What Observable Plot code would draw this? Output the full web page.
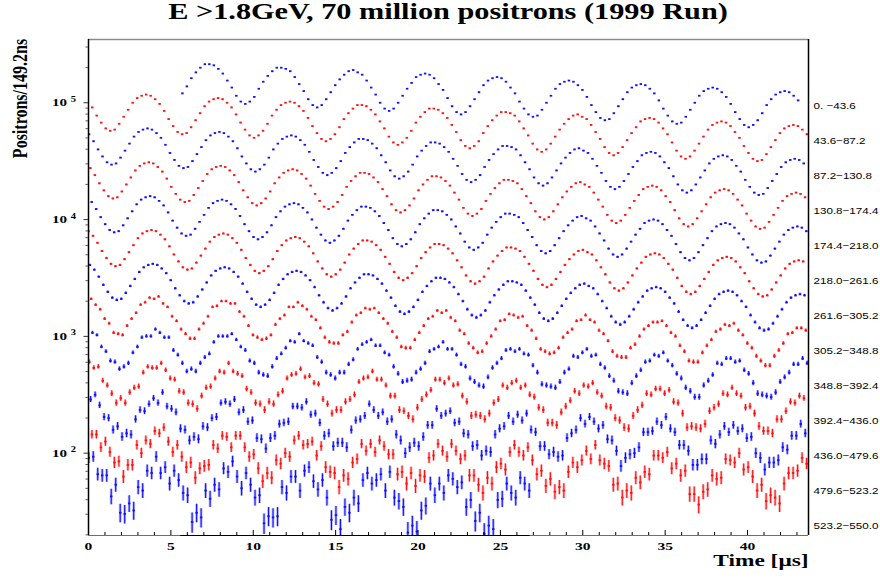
<!DOCTYPE html>
<html><head><meta charset="utf-8">
<script src="https://cdn.jsdelivr.net/npm/d3@7"></script>
<script src="https://cdn.jsdelivr.net/npm/@observablehq/plot@0.6"></script>
<style>
body{margin:0;background:#fff;}
#title{position:relative;height:30px;width:880px;}
#title span{position:absolute;left:447.5px;top:0;line-height:24px;white-space:nowrap;font-weight:bold;font-size:22.7px;font-family:"Liberation Serif","Times New Roman",serif;transform:translateX(-50%) scaleX(1.335);color:#000;}
</style></head><body>
<div id="title"><span>E &gt;1.8GeV, 70 million positrons (1999 Run)</span></div>
<div id="chart"></div>
<script>
// ---- data (log10 of positrons per 149.2 ns bin) ----
const rowRanges = ["0. \u221243.6","43.6\u221287.2","87.2\u2212130.8","130.8\u2212174.4","174.4\u2212218.0","218.0\u2212261.6","261.6\u2212305.2","305.2\u2212348.8","348.8\u2212392.4","392.4\u2212436.0","436.0\u2212479.6","479.6\u2212523.2","523.2\u2212550.0"];
const rowStart = [5.698,0.226,0.034,0.114,0.194,0.001,0.081,0.161,0.241,0.048,0.128,0.208,0.015]; // μs of first sample
const binStep = 0.2728; // μs between plotted samples
const xTicks = [0,5,10,15,20,25,30,35,40];
const xMinorTicks = [1,2,3,4,6,7,8,9,11,12,13,14,16,17,18,19,21,22,23,24,26,27,28,29,31,32,33,34,36,37,38,39,41,42,43];
const yTicks = [100,1000,10000,100000];
const yMinorTicks = [20,30,40,50,60,70,80,90,200,300,400,500,600,700,800,900,2000,3000,4000,5000,6000,7000,8000,9000,20000,30000,40000,50000,60000,70000,80000,90000,200000,300000];
const zeroRanges = [[0,5.6],[26.8,43.7]]; // empty bins drawn on the axis
const xTitle = "Time [\u03bcs]";
const yTitle = "Positrons/149.2ns";

const lgRow0 = [5.08,5.14,5.21,5.26,5.30,5.33,
5.33,5.32,5.29,5.25,5.19,5.13,5.06,5.01,4.99,5.01,5.05,5.12,5.18,5.23,5.27,5.30,
5.30,5.29,5.27,5.22,5.16,5.10,5.03,4.98,4.96,4.98,5.03,5.09,5.15,5.20,5.24,5.27,
5.28,5.26,5.24,5.19,5.13,5.07,5.00,4.95,4.93,4.95,5.00,5.06,5.12,5.17,5.22,5.24,
5.25,5.24,5.21,5.16,5.11,5.04,4.97,4.92,4.90,4.92,4.97,5.03,5.09,5.15,5.19,5.21,
5.22,5.21,5.18,5.13,5.08,5.01,4.95,4.90,4.88,4.89,4.94,5.00,5.06,5.12,5.16,5.18,
5.19,5.18,5.15,5.11,5.05,4.98,4.92,4.87,4.85,4.86,4.91,4.97,5.03,5.09,5.13,5.15,
5.16,5.15,5.12,5.08,5.02,4.95,4.89,4.84,4.82,4.83,4.88,4.94,5.00,5.06,5.10,5.12,
5.13,5.12,5.09,5.05,4.99,4.92,4.86,4.81,4.79,4.81,4.85,4.91,4.98,5.03,5.07,5.09,
5.10,5.09,5.06,5.02];
const lgRow1 = [4.96,4.89,4.83,4.78,4.76,4.77,4.82,4.88,4.94,5.00,5.04,5.06,
5.07,5.06,5.03,4.99,4.93,4.86,4.80,4.75,4.73,4.74,4.79,4.85,4.91,4.97,5.01,5.03,
5.04,5.03,5.00,4.96,4.90,4.83,4.77,4.72,4.70,4.72,4.76,4.82,4.89,4.94,4.98,5.00,
5.01,5.00,4.97,4.93,4.87,4.80,4.74,4.69,4.67,4.69,4.73,4.79,4.86,4.91,4.95,4.98,
4.98,4.97,4.94,4.90,4.84,4.78,4.71,4.66,4.64,4.66,4.70,4.76,4.83,4.88,4.92,4.95,
4.95,4.94,4.91,4.87,4.81,4.75,4.68,4.63,4.61,4.63,4.67,4.74,4.80,4.85,4.89,4.92,
4.92,4.91,4.89,4.84,4.78,4.72,4.65,4.60,4.58,4.60,4.65,4.71,4.77,4.82,4.86,4.89,
4.90,4.88,4.86,4.81,4.75,4.69,4.62,4.57,4.55,4.57,4.62,4.68,4.74,4.79,4.84,4.86,
4.87,4.86,4.83,4.78,4.73,4.66,4.59,4.54,4.52,4.54,4.59,4.65,4.71,4.77,4.81,4.83,
4.84,4.83,4.80,4.75,4.70,4.63,4.57,4.52,4.50,4.51,4.56,4.62,4.68,4.74,4.78,4.80,
4.81,4.80,4.77,4.73];
const lgRow2 = [4.73,4.67,4.60,4.54,4.49,4.47,4.48,4.53,4.59,4.65,4.71,4.75,4.77,
4.78,4.77,4.74,4.70,4.64,4.57,4.51,4.46,4.44,4.45,4.50,4.56,4.62,4.68,4.72,4.74,
4.75,4.74,4.71,4.67,4.61,4.54,4.48,4.43,4.41,4.43,4.47,4.53,4.60,4.65,4.69,4.71,
4.72,4.71,4.68,4.64,4.58,4.51,4.45,4.40,4.38,4.40,4.44,4.50,4.57,4.62,4.66,4.69,
4.69,4.68,4.65,4.61,4.55,4.49,4.42,4.37,4.35,4.37,4.41,4.47,4.54,4.59,4.63,4.66,
4.66,4.65,4.62,4.58,4.52,4.46,4.39,4.34,4.32,4.34,4.38,4.45,4.51,4.56,4.60,4.63,
4.63,4.62,4.60,4.55,4.49,4.43,4.36,4.31,4.29,4.31,4.36,4.42,4.48,4.53,4.57,4.60,
4.61,4.59,4.57,4.52,4.46,4.40,4.33,4.28,4.26,4.28,4.33,4.39,4.45,4.50,4.55,4.57,
4.58,4.57,4.54,4.49,4.44,4.37,4.30,4.25,4.23,4.25,4.30,4.36,4.42,4.48,4.52,4.54,
4.55,4.54,4.51,4.46,4.41,4.34,4.28,4.23,4.21,4.22,4.27,4.33,4.39,4.45,4.49,4.51,
4.52,4.51,4.48];
const lgRow3 = [4.44,4.38,4.31,4.25,4.20,4.18,4.19,4.24,4.30,4.36,4.42,4.46,4.48,
4.49,4.48,4.45,4.41,4.35,4.28,4.22,4.17,4.15,4.16,4.21,4.27,4.33,4.39,4.43,4.45,
4.46,4.45,4.42,4.38,4.32,4.25,4.19,4.14,4.12,4.14,4.18,4.24,4.31,4.36,4.40,4.42,
4.43,4.42,4.39,4.35,4.29,4.22,4.16,4.11,4.09,4.11,4.15,4.21,4.28,4.33,4.37,4.40,
4.40,4.39,4.36,4.32,4.26,4.20,4.13,4.08,4.06,4.08,4.12,4.18,4.25,4.30,4.34,4.37,
4.37,4.36,4.33,4.29,4.23,4.17,4.10,4.05,4.03,4.05,4.09,4.16,4.22,4.27,4.31,4.34,
4.34,4.33,4.31,4.26,4.20,4.14,4.07,4.02,4.00,4.02,4.07,4.13,4.19,4.24,4.28,4.31,
4.32,4.30,4.28,4.23,4.17,4.11,4.04,3.99,3.97,3.99,4.04,4.10,4.16,4.21,4.26,4.28,
4.29,4.28,4.25,4.20,4.15,4.08,4.01,3.96,3.94,3.96,4.01,4.07,4.13,4.19,4.23,4.25,
4.26,4.25,4.22,4.17,4.12,4.05,3.99,3.94,3.92,3.93,3.98,4.04,4.10,4.16,4.20,4.22,
4.23,4.22,4.19];
const lgRow4 = [4.15,4.09,4.02,3.96,3.91,3.89,3.90,3.95,4.01,4.07,4.13,4.17,4.19,
4.20,4.19,4.16,4.12,4.06,3.99,3.93,3.88,3.86,3.87,3.92,3.98,4.04,4.10,4.14,4.16,
4.17,4.16,4.13,4.09,4.03,3.96,3.90,3.85,3.83,3.85,3.89,3.95,4.02,4.07,4.11,4.13,
4.14,4.13,4.10,4.06,4.00,3.93,3.87,3.82,3.80,3.82,3.86,3.92,3.99,4.04,4.08,4.11,
4.11,4.10,4.07,4.03,3.97,3.91,3.84,3.79,3.77,3.79,3.83,3.89,3.96,4.01,4.05,4.08,
4.08,4.07,4.04,4.00,3.94,3.88,3.81,3.76,3.74,3.76,3.80,3.87,3.93,3.98,4.02,4.05,
4.05,4.04,4.02,3.97,3.91,3.85,3.78,3.73,3.71,3.73,3.78,3.84,3.90,3.95,3.99,4.02,
4.03,4.01,3.99,3.94,3.88,3.82,3.75,3.70,3.68,3.70,3.75,3.81,3.87,3.92,3.97,3.99,
4.00,3.99,3.96,3.91,3.86,3.79,3.72,3.67,3.65,3.67,3.72,3.78,3.84,3.90,3.94,3.96,
3.97,3.96,3.93,3.88,3.83,3.76,3.70,3.65,3.63,3.64,3.69,3.75,3.81,3.87,3.91,3.93,
3.94,3.93,3.90];
const lgRow5 = [3.90,3.86,3.80,3.73,3.67,3.62,3.60,3.61,3.66,3.72,3.78,3.84,3.88,3.90,
3.91,3.90,3.87,3.83,3.77,3.70,3.64,3.59,3.57,3.58,3.63,3.69,3.75,3.81,3.85,3.87,
3.88,3.87,3.84,3.80,3.74,3.67,3.61,3.56,3.54,3.56,3.60,3.66,3.73,3.78,3.82,3.84,
3.85,3.84,3.81,3.77,3.71,3.64,3.58,3.53,3.51,3.53,3.57,3.63,3.70,3.75,3.79,3.82,
3.82,3.81,3.78,3.74,3.68,3.62,3.55,3.50,3.48,3.50,3.54,3.60,3.67,3.72,3.76,3.79,
3.79,3.78,3.75,3.71,3.65,3.59,3.52,3.47,3.45,3.47,3.51,3.58,3.64,3.69,3.73,3.76,
3.76,3.75,3.73,3.68,3.62,3.56,3.49,3.44,3.42,3.44,3.49,3.55,3.61,3.66,3.70,3.73,
3.74,3.72,3.70,3.65,3.59,3.53,3.46,3.41,3.39,3.41,3.46,3.52,3.58,3.63,3.68,3.70,
3.71,3.70,3.67,3.62,3.57,3.50,3.43,3.38,3.36,3.38,3.43,3.49,3.55,3.61,3.65,3.67,
3.68,3.67,3.64,3.59,3.54,3.47,3.41,3.36,3.34,3.35,3.40,3.46,3.52,3.58,3.62,3.64,
3.65,3.64];
const lgRow6 = [3.61,3.57,3.51,3.44,3.38,3.33,3.31,3.32,3.37,3.43,3.49,3.55,3.59,3.61,
3.62,3.61,3.58,3.54,3.48,3.41,3.35,3.30,3.28,3.29,3.34,3.40,3.46,3.52,3.56,3.58,
3.59,3.58,3.55,3.51,3.45,3.38,3.32,3.27,3.25,3.27,3.31,3.37,3.44,3.49,3.53,3.55,
3.56,3.55,3.52,3.48,3.42,3.35,3.29,3.24,3.22,3.24,3.28,3.34,3.41,3.46,3.50,3.53,
3.53,3.52,3.49,3.45,3.39,3.33,3.26,3.21,3.19,3.21,3.25,3.31,3.38,3.43,3.47,3.50,
3.50,3.49,3.46,3.42,3.36,3.30,3.23,3.18,3.16,3.18,3.22,3.29,3.35,3.40,3.44,3.47,
3.47,3.46,3.44,3.39,3.33,3.27,3.20,3.15,3.13,3.15,3.20,3.26,3.32,3.37,3.41,3.44,
3.45,3.43,3.41,3.36,3.30,3.24,3.17,3.12,3.10,3.12,3.17,3.23,3.29,3.34,3.39,3.41,
3.42,3.41,3.38,3.33,3.28,3.21,3.14,3.09,3.07,3.09,3.14,3.20,3.26,3.32,3.36,3.38,
3.39,3.38,3.35,3.30,3.25,3.18,3.12,3.07,3.05,3.06,3.11,3.17,3.23,3.29,3.33,3.35,
3.36,3.35];
const lgRow7 = [3.32,3.27,3.23,3.15,3.11,3.03,3.02,3.01,3.09,3.15,3.20,3.27,3.29,3.33,
3.32,3.34,3.28,3.25,3.17,3.13,3.06,3.02,2.98,2.98,3.06,3.11,3.17,3.25,3.26,3.30,
3.30,3.28,3.28,3.21,3.17,3.09,3.01,2.99,2.97,2.98,3.01,3.10,3.15,3.18,3.25,3.25,
3.29,3.26,3.23,3.17,3.14,3.07,2.99,2.95,2.94,2.94,3.01,3.04,3.12,3.18,3.20,3.24,
3.23,3.24,3.20,3.15,3.11,3.04,2.99,2.91,2.90,2.90,2.97,3.03,3.09,3.15,3.17,3.22,
3.20,3.22,3.16,3.13,3.05,3.02,2.94,2.90,2.86,2.87,2.94,3.00,3.06,3.13,3.14,3.19,
3.18,3.16,3.17,3.09,3.05,2.98,2.89,2.87,2.85,2.86,2.90,2.99,3.03,3.06,3.13,3.14,
3.18,3.14,3.12,3.05,3.02,2.96,2.87,2.83,2.82,2.82,2.90,2.93,3.00,3.06,3.09,3.12,
3.12,3.13,3.09,3.03,3.00,2.92,2.87,2.79,2.78,2.78,2.86,2.92,2.97,3.04,3.06,3.10,
3.09,3.11,3.05,3.01,2.94,2.90,2.83,2.79,2.75,2.75,2.83,2.88,2.94,3.02,3.03,3.07,
3.07,3.05];
const lgRow8 = [3.03,3.01,2.91,2.87,2.79,2.78,2.72,2.74,2.77,2.86,2.91,2.99,3.00,3.00,
3.06,3.03,2.99,2.99,2.88,2.84,2.77,2.70,2.72,2.70,2.77,2.82,2.85,2.95,3.00,3.00,
3.00,3.02,2.97,2.91,2.88,2.79,2.77,2.69,2.67,2.66,2.74,2.81,2.85,2.90,2.96,2.95,
3.02,2.96,2.94,2.92,2.82,2.78,2.69,2.67,2.64,2.69,2.69,2.76,2.80,2.89,2.93,2.95,
2.97,2.92,2.92,2.86,2.84,2.74,2.68,2.61,2.62,2.63,2.69,2.72,2.77,2.87,2.89,2.91,
2.95,2.89,2.89,2.84,2.76,2.74,2.64,2.61,2.58,2.57,2.65,2.73,2.77,2.81,2.88,2.89,
2.87,2.89,2.85,2.84,2.75,2.69,2.59,2.58,2.57,2.56,2.61,2.69,2.72,2.83,2.82,2.86,
2.89,2.83,2.84,2.76,2.73,2.66,2.62,2.53,2.52,2.51,2.60,2.66,2.71,2.78,2.79,2.84,
2.83,2.86,2.79,2.75,2.68,2.64,2.56,2.53,2.48,2.48,2.58,2.62,2.67,2.77,2.76,2.81,
2.81,2.78,2.79,2.71,2.68,2.60,2.51,2.50,2.49,2.48,2.52,2.61,2.65,2.69,2.76,2.76,
2.81,2.77];
const lgRow9 = [2.78,2.73,2.74,2.62,2.58,2.51,2.43,2.47,2.43,2.52,2.56,2.57,2.69,2.74,2.73,
2.73,2.77,2.71,2.64,2.63,2.53,2.52,2.43,2.42,2.38,2.49,2.56,2.57,2.64,2.70,2.69,
2.77,2.70,2.68,2.66,2.55,2.52,2.43,2.42,2.37,2.44,2.42,2.50,2.53,2.64,2.67,2.68,
2.72,2.65,2.66,2.60,2.59,2.46,2.42,2.34,2.37,2.37,2.44,2.46,2.50,2.61,2.64,2.65,
2.70,2.63,2.63,2.58,2.49,2.49,2.37,2.36,2.32,2.29,2.39,2.46,2.50,2.54,2.63,2.63,
2.60,2.64,2.58,2.59,2.49,2.44,2.32,2.33,2.32,2.29,2.34,2.43,2.46,2.58,2.56,2.60,
2.62,2.56,2.58,2.50,2.48,2.39,2.37,2.26,2.26,2.24,2.35,2.40,2.45,2.53,2.51,2.58,
2.57,2.60,2.52,2.49,2.40,2.39,2.30,2.28,2.22,2.21,2.32,2.37,2.41,2.51,2.50,2.55,
2.55,2.51,2.54,2.44,2.43,2.34,2.22,2.23,2.22,2.21,2.25,2.36,2.39,2.42,2.51,2.50,
2.56,2.51,2.49,2.39,2.40,2.34,2.23,2.19,2.19,2.17,2.29,2.29,2.36,2.44,2.43,2.49,
2.47];
const lgRow10 = [2.46,2.50,2.41,2.31,2.30,2.20,2.23,2.14,2.17,2.16,2.29,2.37,2.36,2.42,2.47,
2.43,2.52,2.40,2.38,2.35,2.21,2.20,2.11,2.14,2.12,2.23,2.22,2.30,2.31,2.43,2.44,
2.42,2.46,2.35,2.37,2.27,2.28,2.13,2.12,2.04,2.13,2.15,2.25,2.26,2.27,2.40,2.40,
2.39,2.44,2.33,2.34,2.26,2.15,2.17,2.06,2.09,2.09,2.05,2.20,2.28,2.29,2.32,2.42,
2.37,2.32,2.35,2.27,2.29,2.16,2.11,2.00,2.05,2.09,2.06,2.14,2.24,2.24,2.38,2.32,
2.34,2.36,2.26,2.27,2.17,2.16,2.06,2.07,1.98,2.02,2.01,2.16,2.21,2.23,2.32,2.27,
2.33,2.28,2.34,2.20,2.18,2.06,2.06,1.99,2.01,1.97,1.98,2.13,2.17,2.20,2.30,2.25,
2.31,2.27,2.21,2.24,2.12,2.11,2.02,1.89,1.96,1.99,2.00,2.05,2.18,2.18,2.19,2.27,
2.24,2.31,2.21,2.18,2.07,2.07,2.02,1.90,1.90,1.95,1.95,2.11,2.08,2.16,2.23,2.18,
2.24,2.19,2.21,2.13,2.14,2.00,1.96,1.86,1.92,1.92,1.94,2.05,2.03,2.15,2.15,2.25,
2.17];
const lgRow11 = [2.16,2.16,2.05,2.10,2.01,1.92,1.93,1.80,1.90,1.90,2.07,2.00,2.11,2.08,2.19,
2.17,2.22,2.10,2.01,2.07,1.97,1.88,1.92,1.79,1.87,1.89,1.90,2.07,2.04,2.15,2.14,
2.05,2.15,2.15,2.05,1.97,1.99,1.87,1.76,1.83,1.79,1.94,1.91,2.00,1.97,2.11,2.15,
2.07,2.08,2.10,1.98,2.06,1.88,1.84,1.83,1.71,1.81,1.78,1.92,1.95,2.08,2.02,2.08,
2.01,2.11,2.06,1.99,1.99,1.82,1.84,1.74,1.83,1.72,1.81,1.80,1.96,1.98,2.08,2.02,
1.97,2.08,2.02,1.95,1.98,1.81,1.81,1.73,1.66,1.79,1.74,1.88,1.91,1.86,2.01,2.07,
2.01,1.98,2.05,1.94,1.82,1.85,1.72,1.78,1.67,1.71,1.68,1.84,1.92,1.88,1.94,2.02,
1.95,2.07,1.94,1.91,1.89,1.73,1.74,1.62,1.68,1.66,1.79,1.75,1.84,1.82,1.98,1.98,
1.96,2.01,1.87,1.91,1.81,1.85,1.65,1.65,1.56,1.67,1.69,1.81,1.78,1.79,1.95,1.94,
1.92,2.00,1.86,1.88,1.80,1.68,1.73,1.59,1.64,1.62,1.57,1.74,1.83,1.83,1.85,1.96,
1.91];
const lgRow12 = [1.96,1.97,1.82,1.81,1.81,1.63,1.73,1.49,1.48,1.57,1.51,1.71,1.68,1.85,1.83,1.97,
1.83,1.88,1.74,1.85,1.77,1.66,1.64,1.41,1.49,1.45,1.68,1.61,1.73,1.69,1.87,1.84,
1.93,1.80,1.70,1.83,1.73,1.62,1.64,1.40,1.46,1.45,1.46,1.71,1.66,1.80,1.80,1.68,
1.85,1.88,1.76,1.69,1.77,1.62,1.43,1.47,1.35,1.54,1.49,1.62,1.57,1.77,1.83,1.74,
1.77,1.82,1.68,1.84,1.62,1.59,1.54,1.32,1.38,1.33,1.51,1.55,1.74,1.64,1.74,1.66,
1.81,1.78,1.71,1.75,1.54,1.60,1.42,1.49,1.31,1.38,1.35,1.60,1.61,1.74,1.66,1.62,
1.79,1.74,1.68];

const rows = [lgRow0,lgRow1,lgRow2,lgRow3,lgRow4,lgRow5,lgRow6,lgRow7,lgRow8,lgRow9,lgRow10,lgRow11,lgRow12];

// ---- build ----
const yMin = 19.74, yMax = 348000;
const points = rows.flatMap((arr, k) => arr.map((v, i) => ({k, x: rowStart[k] + i * binStep, n: 10 ** v})));
const blue = "#1010ff", red = "#ff1010";
const bluePts = points.filter(d => d.k % 2 === 0);
const redPts = points.filter(d => d.k % 2 === 1);
const serif = "'Liberation Serif','Times New Roman',serif";
const sans = "'Liberation Sans',Arial,sans-serif";
const halfBin = 0.0746;

function seriesMarks(data, color) {
  return [
    Plot.ruleX(data, {x: "x", y1: d => d.n - Math.sqrt(d.n), y2: d => d.n + Math.sqrt(d.n), stroke: color, strokeWidth: 2.8, strokeOpacity: 0.3, clip: true}),
    Plot.ruleX(data, {x: "x", y1: d => d.n - Math.sqrt(d.n), y2: d => d.n + Math.sqrt(d.n), stroke: color, strokeWidth: 1.1, clip: true}),
    Plot.link(data, {x1: d => d.x - halfBin, x2: d => d.x + halfBin, y1: "n", y2: "n", stroke: color, strokeWidth: 1.8, clip: true})
  ];
}

const chart = Plot.plot({
  width: 880, height: 550,
  marginLeft: 88, marginRight: 72, marginTop: 9, marginBottom: 45,
  x: {domain: [0, 43.7]},
  y: {type: "log", domain: [yMin, yMax]},
  style: {background: "#fff", color: "#000"},
  marks: [
    ...seriesMarks(redPts, red),
    ...seriesMarks(bluePts, blue),
    Plot.ruleY([yMax], {stroke: "#8a8a8a", strokeWidth: 1.5}),
    Plot.ruleX([43.7], {stroke: "#000", strokeWidth: 1.5}),
    Plot.ruleX([0], {stroke: "#000", strokeWidth: 1.5}),
    Plot.ruleY([yMin], {stroke: "#000", strokeWidth: 1.2}),
    Plot.ruleY(zeroRanges, {y: () => yMin, x1: d => d[0], x2: d => d[1], stroke: "#5a5aff", strokeWidth: 1.2}),
    Plot.tickX(xMinorTicks, {x: d => d, insetTop: 493, stroke: "#000"}),
    Plot.tickX(xTicks, {x: d => d, insetTop: 491, stroke: "#000"}),
    Plot.axisY({ticks: yMinorTicks, tickSize: 2.5, tickFormat: () => "", label: null, stroke: "#555"}),
    Plot.axisY({ticks: yTicks, tickSize: 4.5, tickPadding: 8, tickFormat: d => "10|" + Math.round(Math.log10(d)), label: null,
      fontFamily: serif, fontWeight: "bold", fontSize: 10.8, stroke: "#333"}),
    Plot.axisX({ticks: xTicks, tickSize: 0, tickPadding: 6.5, label: null, fontFamily: serif, fontWeight: "bold", fontSize: 10.8}),
    Plot.text(rowRanges, {x: () => 43.7, y: (d, i) => 93500 / 10 ** (0.2997 * i), text: d => d, dx: 5, textAnchor: "start",
      fontFamily: sans, fontSize: 9.3, fill: "#000"}),
    Plot.text([xTitle], {frameAnchor: "bottom-right", text: d => d, dy: 30, textAnchor: "end", fontFamily: serif, fontWeight: "bold",
      fontSize: 16, fill: "#000"}),
    Plot.text([yTitle], {frameAnchor: "top-left", text: d => d, dx: -76, dy: 59, rotate: -90, textAnchor: "middle", fontFamily: serif,
      fontWeight: "bold", fontSize: 20, fill: "#000"})
  ]
});

function stretch(el, s) {
  const x = +el.getAttribute("x") || 0;
  const t = el.getAttribute("transform") || "";
  el.setAttribute("transform", `${t} translate(${x},0) scale(${s},1) translate(${-x},0)`);
}
chart.querySelectorAll('[aria-label="x-axis tick label"] text').forEach(el => stretch(el, 1.44));
chart.querySelectorAll('[aria-label="y-axis tick label"] text').forEach(el => {
  const parts = el.textContent.split("|");
  if (parts.length < 2) return;
  el.textContent = parts[0];
  const ts = document.createElementNS("http://www.w3.org/2000/svg", "tspan");
  ts.setAttribute("dx", "2.6"); ts.setAttribute("dy", "-4.5"); ts.setAttribute("font-size", "7.5");
  ts.textContent = parts[1];
  el.appendChild(ts);
  stretch(el, 1.4);
});
chart.querySelectorAll("text").forEach(el => {
  const s = el.textContent;
  if (rowRanges.includes(s)) stretch(el, 1.25);
  else if (s === xTitle) stretch(el, 1.46);
  else if (s === yTitle) stretch(el, 0.8);
});
document.getElementById("chart").appendChild(chart);
</script>
</body></html>
